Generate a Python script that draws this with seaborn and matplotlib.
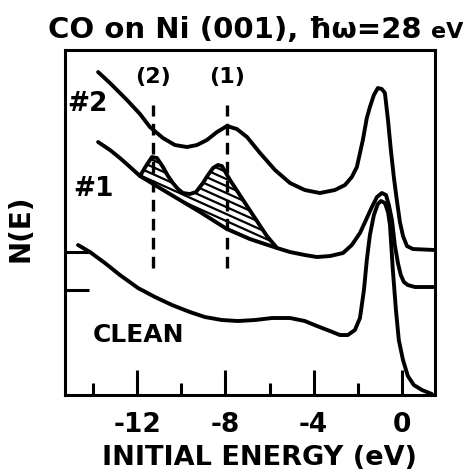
import numpy as np
import pandas as pd
import matplotlib
matplotlib.use("Agg")
import matplotlib.pyplot as plt
from matplotlib.patches import Polygon
import seaborn as sns

# ---------------- data (initial energy in eV, N(E) in arbitrary units) ----------------
e_co2 = [-13.77, -13.23, -12.46, -11.87, -11.42, -10.83, -10.29, -9.74, -9.29, -8.84,
         -8.38, -7.93, -7.48, -7.02, -6.43, -5.75, -5.07, -4.40, -3.72, -3.04,
         -2.58, -2.27, -2.04, -1.77, -1.59, -1.45, -1.27, -1.09, -0.91, -0.77,
         -0.63, -0.50, -0.36, -0.23, -0.09, 0.05, 0.23, 0.50, 1.50]
n_co2 = [323, 312, 295, 281, 268, 257, 250, 248, 250, 255,
         263, 269, 266, 258, 242, 225, 212, 205, 202, 205,
         210, 218, 228, 255, 277, 288, 300, 307, 306, 302,
         275, 245, 217, 195, 173, 159, 149, 146, 145]

e_co1 = [-13.77, -13.23, -12.78, -12.32, -11.87, -11.60, -11.33, -11.10, -10.83, -10.60,
         -10.38, -10.15, -9.92, -9.61, -9.33, -9.02, -8.79, -8.56, -8.34, -8.16,
         -7.79, -7.02, -6.12, -5.66, -5.07, -4.40, -3.85, -3.26, -2.67, -2.27,
         -1.90, -1.63, -1.36, -1.13, -0.91, -0.72, -0.59, -0.45, -0.32, -0.18,
         -0.05, 0.09, 0.27, 0.59, 1.50]
n_co1 = [253, 245, 237, 228, 219, 229, 238, 237, 228, 219,
         212, 206, 202, 201, 203, 212, 220, 227, 230, 229,
         215, 189, 159, 147, 143, 140, 138, 139, 142, 150,
         162, 175, 188, 198, 202, 200, 190, 175, 150, 132,
         120, 113, 110, 108, 108]

e_bg = [-11.87, -10.97, -10.06, -9.15, -7.93, -6.89, -5.66]
n_bg = [219, 207, 195, 183, 166, 156, 147]

e_clean = [-14.68, -14.14, -13.46, -12.78, -11.96, -11.19, -10.42, -9.61, -8.93, -8.16,
           -7.43, -6.66, -5.89, -5.07, -4.40, -3.85, -3.26, -2.81, -2.45, -2.13,
           -1.90, -1.72, -1.59, -1.45, -1.27, -1.09, -0.95, -0.77, -0.63, -0.54,
           -0.41, -0.27, -0.14, 0.05, 0.27, 0.54, 0.91, 1.36]
n_clean = [150, 143, 132, 120, 107, 98, 90, 83, 78, 75,
           74, 75, 77, 77, 74, 69, 64, 60, 60, 65,
           77, 105, 135, 160, 180, 191, 194, 192, 183, 170,
           125, 85, 55, 35, 19, 10, 5, 1]

peak_pos = [-11.3, -7.93]
peak_labels = ["(2)", "(1)"]
xticks_major = [-12, -8, -4, 0]
xticks_minor = [-14, -10, -6, -2]
baseline_ticks = [105, 143]

# ---------------- style ----------------
sns.set_theme(style="white")
plt.rcParams["font.family"] = ["DejaVu Sans"]
plt.rcParams["axes.unicode_minus"] = False
plt.rcParams["text.color"] = "black"
plt.rcParams["axes.labelcolor"] = "black"
plt.rcParams["xtick.color"] = "black"
plt.rcParams["ytick.color"] = "black"

fig = plt.figure(figsize=(4.7, 4.72), dpi=100)
ax = fig.add_axes([0.1383, 0.1631, 0.7872, 0.7309])

LW = 2.8
for e, n in [(e_co2, n_co2), (e_co1, n_co1), (e_clean, n_clean)]:
    df = pd.DataFrame({"E": e, "N": n})
    sns.lineplot(data=df, x="E", y="N", sort=False, estimator=None,
                 color="black", lw=LW, ax=ax, solid_capstyle="round")

sns.lineplot(x=e_bg, y=n_bg, sort=False, estimator=None, color="black",
             lw=LW, ax=ax)

# hatched area between CO #1 curve and the background
e1 = np.array(e_co1); n1 = np.array(n_co1)
mask = (e1 >= e_bg[0]) & (e1 <= e_bg[-1])
poly_e = np.concatenate([e1[mask], np.array(e_bg)[::-1]])
poly_n = np.concatenate([n1[mask], np.array(n_bg)[::-1]])
patch = Polygon(np.column_stack([poly_e, poly_n]), closed=True, fill=False,
                edgecolor="black", lw=0)
ax.add_patch(patch)
hx = np.array([-13.0, -4.0])
for c in np.arange(60, 420, 7.0):
    ln, = ax.plot(hx, c - 9.9 * (hx + 12.0), color="black", lw=1.6)
    ln.set_clip_path(patch)

# dashed peak markers
for p, lab in zip(peak_pos, peak_labels):
    ax.plot([p, p], [127, 290], color="black", lw=2.4, dashes=(3.5, 2.2))
    ax.text(p + 0.02, 318, lab, ha="center", va="center", fontsize=16,
            fontweight="bold", color="black")

ax.text(-14.25, 291, "#2", ha="center", va="center", fontsize=19, fontweight="bold",
        color="black")
ax.text(-14.0, 206, "#1", ha="center", va="center", fontsize=19, fontweight="bold",
        color="black")
ax.text(-11.95, 60, "CLEAN", ha="center", va="center", fontsize=18, fontweight="bold",
        color="black")

ax.set_xlim(-15.27, 1.5)
ax.set_ylim(0, 345)
ax.set_xticks(xticks_major)
ax.set_xticks(xticks_minor, minor=True)
ax.set_xticklabels([str(t) for t in xticks_major], fontsize=19, fontweight="bold",
                   color="black")
ax.set_yticks(baseline_ticks)
ax.set_yticklabels([])
ax.tick_params(axis="x", which="major", direction="in", length=18, width=2.2,
               pad=12, bottom=True, top=False, colors="black")
ax.tick_params(axis="x", which="minor", direction="in", length=9, width=2.2,
               bottom=True, top=False, colors="black")
ax.tick_params(axis="y", direction="in", length=17, width=2.2, left=True, right=False,
               colors="black")
for s in ax.spines.values():
    s.set_linewidth(2.2)
    s.set_color("black")
ax.set_xlabel("")
ax.set_ylabel("")

fig.text(0.553, 1 - 458 / 472, "INITIAL ENERGY (eV)", ha="center", va="center",
         fontsize=19.5, fontweight="bold", color="black")
fig.text(20 / 470, 1 - 228 / 472, "N(E)", rotation=90, ha="center", va="center",
         fontsize=20, fontweight="bold", color="black")
fig.text(48 / 470, 1 - 38 / 472, "CO on Ni (001), ħω=28", ha="left", va="baseline",
         fontsize=21, fontweight="bold", color="black")
fig.text(431 / 470, 1 - 38 / 472, "eV", ha="left", va="baseline",
         fontsize=16, fontweight="bold", color="black")

fig.savefig("out.png", dpi=100)
